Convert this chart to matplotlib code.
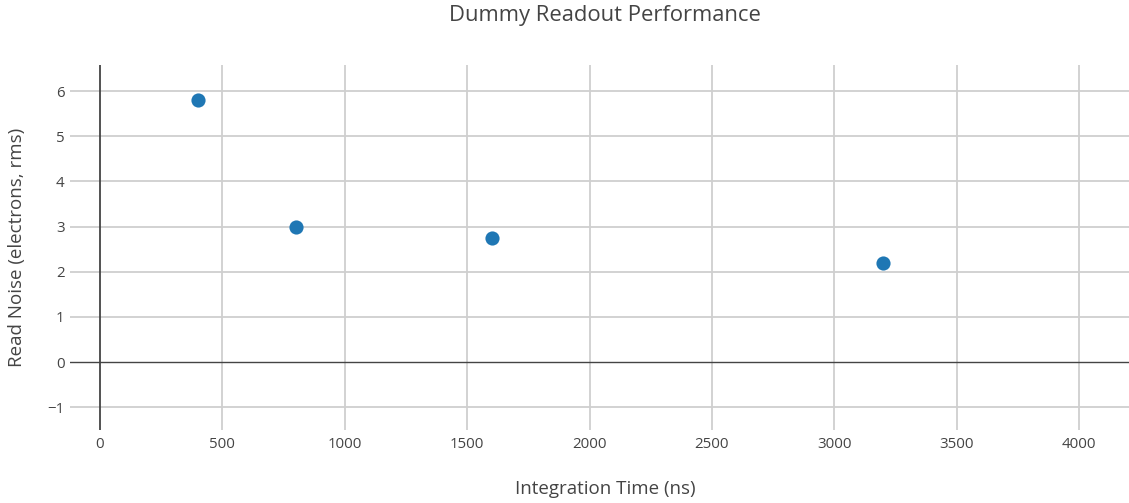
import matplotlib.pyplot as plt
import numpy as np

plt.rcParams['font.family'] = ['Open Sans', 'DejaVu Sans']

# data
integration_time = [400, 800, 1600, 3200]
read_noise = [5.8, 3.0, 2.75, 2.2]
x_ticks = [0, 500, 1000, 1500, 2000, 2500, 3000, 3500, 4000]
y_ticks = [-1, 0, 1, 2, 3, 4, 5, 6]

W, H = 1129, 503
fig = plt.figure(figsize=(W / 100, H / 100), dpi=100)
ax = fig.add_axes([70 / W, 73 / H, 1059 / W, 365 / H])

ax.set_xlim(-122.6, 4204)
ax.set_ylim(-1.505, 6.576)

for s in ax.spines.values():
    s.set_visible(False)

ax.set_xticks(x_ticks)
ax.set_yticks(y_ticks)
ax.set_xticklabels([str(t) for t in x_ticks])
ax.set_yticklabels([('\u2212' + str(-t)) if t < 0 else str(t) for t in y_ticks])
ax.tick_params(length=0, labelsize=10.8, colors='#444444', pad=4)
ax.tick_params(axis='x', pad=5)

grid_c = '#cfcfcf'
for t in x_ticks:
    if t != 0:
        ax.axvline(t, color=grid_c, lw=1.3, zorder=0)
for t in y_ticks:
    if t != 0:
        ax.axhline(t, color=grid_c, lw=1.3, zorder=0)
ax.axvline(0, color='#444444', lw=1.3, zorder=1)
ax.axhline(0, color='#444444', lw=1.0, zorder=1)

ax.plot(integration_time, read_noise, 'o', color='#1f77b4', ms=10.2,
        markeredgewidth=0, zorder=3)

fig.text(605 / W, 1 - 15.5 / H, 'Dummy Readout Performance', ha='center',
         va='center', fontsize=15.8, color='#444444')
fig.text(605 / W, 1 - 489 / H, 'Integration Time (ns)', ha='center',
         va='center', fontsize=13.5, color='#444444')
fig.text(17 / W, 1 - 247 / H, 'Read Noise (electrons, rms)', ha='center',
         va='center', rotation=90, fontsize=13.5, color='#444444')

fig.savefig('out.png', dpi=100)
